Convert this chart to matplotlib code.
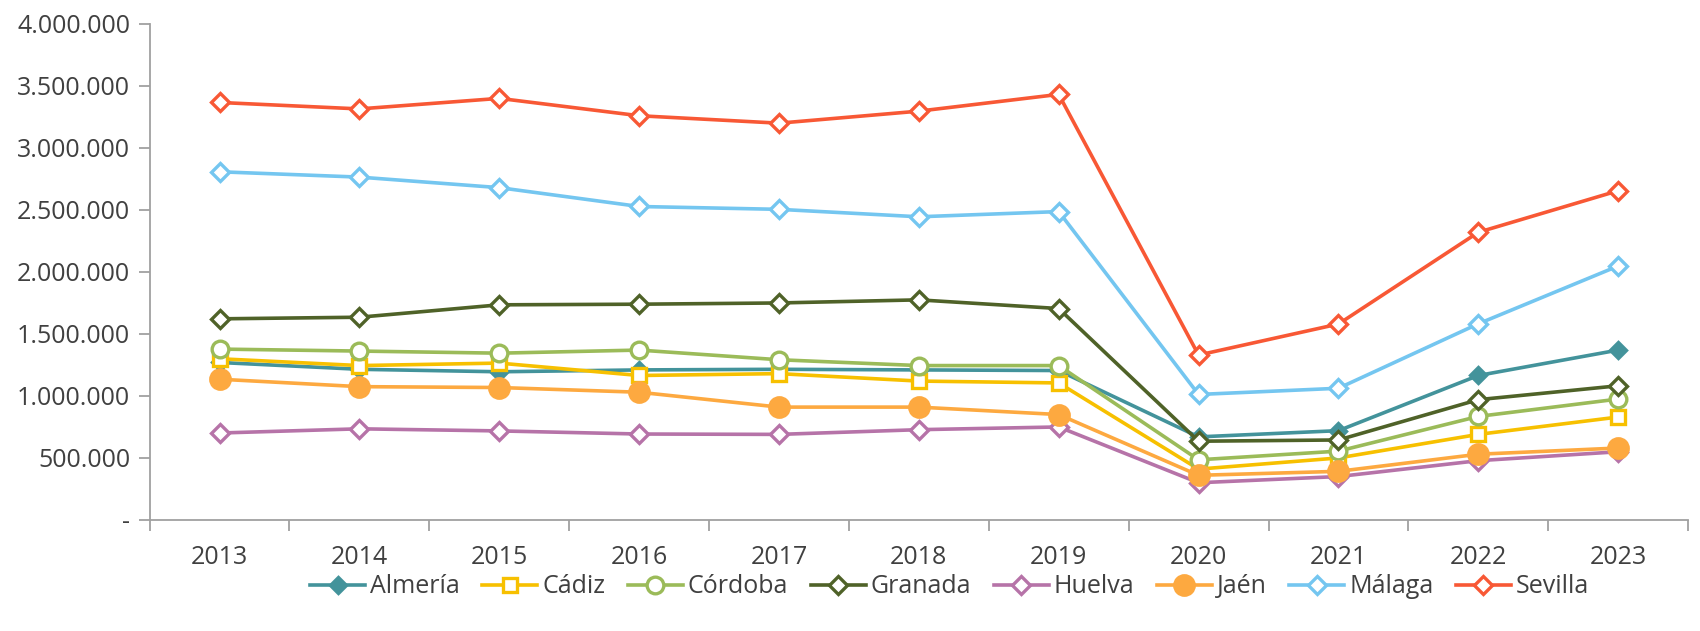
import matplotlib.pyplot as plt
from matplotlib.ticker import FuncFormatter, FixedLocator

# data
years = ["2013", "2014", "2015", "2016", "2017", "2018", "2019", "2020", "2021", "2022", "2023"]
almeria = [1270000, 1215000, 1195000, 1210000, 1215000, 1210000, 1205000, 670000, 720000, 1165000, 1370000]
cadiz = [1300000, 1245000, 1265000, 1165000, 1180000, 1120000, 1105000, 410000, 500000, 690000, 830000]
cordoba = [1378000, 1362000, 1345000, 1370000, 1292000, 1245000, 1245000, 485000, 555000, 835000, 975000]
granada = [1622000, 1635000, 1735000, 1740000, 1750000, 1775000, 1705000, 635000, 645000, 970000, 1082000]
huelva = [701000, 735000, 718000, 693000, 690000, 728000, 750000, 300000, 350000, 478000, 550000]
jaen = [1135000, 1075000, 1068000, 1030000, 910000, 910000, 850000, 360000, 392000, 530000, 580000]
malaga = [2808000, 2765000, 2680000, 2528000, 2505000, 2445000, 2487000, 1012000, 1062000, 1582000, 2048000]
sevilla = [3367000, 3315000, 3400000, 3260000, 3200000, 3297000, 3432000, 1330000, 1580000, 2320000, 2655000]

plt.rcParams['font.family'] = ['Open Sans', 'DejaVu Sans']

fig = plt.figure(figsize=(17, 6.31), dpi=100)
ax = fig.add_axes([0.088, 0.176, 0.905, 0.786])

x = list(range(len(years)))
lw = 2.6
series = [
    ("Almería", almeria, "#43939B", "D", 8, True),
    ("Cádiz", cadiz, "#F7C000", "s", 10, False),
    ("Córdoba", cordoba, "#9BBB59", "o", 12, False),
    ("Granada", granada, "#4F6228", "D", 9, False),
    ("Huelva", huelva, "#B673A8", "D", 9, False),
    ("Jaén", jaen, "#FDA940", "o", 14, True),
    ("Málaga", malaga, "#74C6F0", "D", 9, False),
    ("Sevilla", sevilla, "#F85835", "D", 9, False),
]
for name, vals, col, mk, ms, filled in series:
    ax.plot(x, vals, color=col, lw=lw, marker=mk, markersize=ms,
            markeredgewidth=2.4, markeredgecolor=col,
            markerfacecolor=col if filled else "white", label=name)

ax.set_ylim(0, 4000000)
ax.set_xlim(-0.5, len(years) - 0.5)
ax.set_yticks(range(0, 4000001, 500000))
ax.yaxis.set_major_formatter(FuncFormatter(lambda v, p: "-" if v == 0 else f"{int(v):,}".replace(",", ".")))
ax.set_xticks(x)
ax.set_xticklabels(years)
ax.xaxis.set_minor_locator(FixedLocator([i - 0.5 for i in range(len(years) + 1)]))
ax.tick_params(axis="x", which="major", length=0, pad=18, labelsize=18, colors="#404040")
ax.tick_params(axis="x", which="minor", length=8, width=1.3, color="#A0A0A0")
ax.tick_params(axis="y", length=8, width=1.3, color="#A0A0A0", labelsize=18, labelcolor="#404040", pad=6)

for s in ["top", "right"]:
    ax.spines[s].set_visible(False)
for s in ["left", "bottom"]:
    ax.spines[s].set_color("#A0A0A0")
    ax.spines[s].set_linewidth(1.3)

ax.legend(loc="center", bbox_to_anchor=(0.52, -0.135), ncol=8, frameon=False,
          fontsize=18, handlelength=2.2, handletextpad=0.2, columnspacing=0.9,
          labelcolor="#404040")

plt.savefig("out.png", dpi=100)
